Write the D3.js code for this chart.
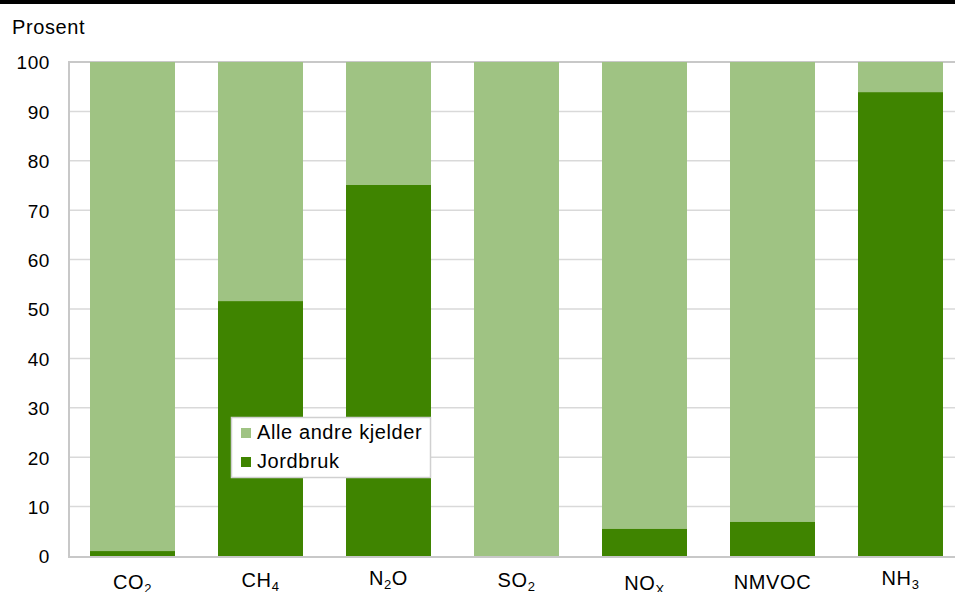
<!DOCTYPE html>
<html><head><meta charset="utf-8">
<script src="https://cdn.jsdelivr.net/npm/d3@7"></script>
<style>
html,body{margin:0;padding:0;background:#fff;}
svg{display:block;font-family:"Liberation Sans",Arial,sans-serif;}
svg text{letter-spacing:0.6px;}
</style></head>
<body>
<script>
const categories = [["CO","2"],["CH","4"],["N","2","O"],["SO","2"],["NO","X"],["NMVOC"],["NH","3"]];
const categoryKeys = ["CO2","CH4","N2O","SO2","NOx","NMVOC","NH3"];
const jordbruk = [1, 51.6, 75.1, 0, 5.5, 6.9, 93.9];
const andre = jordbruk.map(v => 100 - v);
const yTicks = [0,10,20,30,40,50,60,70,80,90,100];
const seriesNames = ["Alle andre kjelder","Jordbruk"];

const W = 955, H = 592;
const FS = 20;
const svg = d3.select("body").append("svg").attr("width", W).attr("height", H);

svg.append("rect").attr("x",0).attr("y",0).attr("width",W).attr("height",4).attr("fill","#000");

const x = d3.scaleBand().domain(categoryKeys).range([68.5, 964.5]).paddingInner(0.336).paddingOuter(0.168);
const y = d3.scaleLinear().domain([0,100]).range([556, 62]);

// gridlines
svg.append("g").selectAll("line").data(yTicks.filter(t => t>0 && t<100)).join("line")
  .attr("x1", 69).attr("x2", W).attr("y1", d=>y(d)).attr("y2", d=>y(d))
  .attr("stroke","#d9d9d9").attr("stroke-width",1.5);

// axes frame lines
svg.append("line").attr("x1",69).attr("x2",W).attr("y1",y(100)).attr("y2",y(100)).attr("stroke","#c8c8c8").attr("stroke-width",2);
svg.append("line").attr("x1",69).attr("x2",W).attr("y1",y(0)+1).attr("y2",y(0)+1).attr("stroke","#c8c8c8").attr("stroke-width",2);
svg.append("line").attr("x1",69).attr("x2",69).attr("y1",y(100)-1).attr("y2",y(0)+2).attr("stroke","#c8c8c8").attr("stroke-width",2);

const colors = {andre:"#9fc383", jord:"#3f8400"};

const bars = svg.append("g");
categoryKeys.forEach((k,i) => {
  bars.append("rect").attr("x", x(k)).attr("width", x.bandwidth())
    .attr("y", y(100)).attr("height", y(jordbruk[i]) - y(100)).attr("fill", colors.andre);
  bars.append("rect").attr("x", x(k)).attr("width", x.bandwidth())
    .attr("y", y(jordbruk[i])).attr("height", y(0) - y(jordbruk[i])).attr("fill", colors.jord);
});

// y axis labels
const yAxis = d3.axisLeft(y).tickValues(yTicks).tickSize(0).tickPadding(0);
const gy = svg.append("g").attr("transform","translate(50,0)").call(yAxis);
gy.select(".domain").remove();
gy.selectAll("text").attr("font-size",FS-1).attr("fill","#000").attr("font-family","Liberation Sans, Arial, sans-serif").attr("dy","0.36em");

svg.append("text").attr("x",12).attr("y",34).attr("font-size",FS).text("Prosent");

// x labels with subscripts
const baseLine = {CO2:589, CH4:587, N2O:585, SO2:587, NOx:590, NMVOC:589, NH3:585};
categories.forEach((parts,i) => {
  const k = categoryKeys[i];
  const t = svg.append("text").attr("x", x(k) + x.bandwidth()/2).attr("y", baseLine[k])
    .attr("text-anchor","middle").attr("font-size",FS);
  parts.forEach((p,j) => {
    const ts = t.append("tspan").text(p);
    if (j===1) ts.attr("font-size",13).attr("dy",4);
    else if (j===2) ts.attr("dy",-4);
  });
});

// legend
const lg = svg.append("g");
lg.append("rect").attr("x",231.5).attr("y",417.5).attr("width",199).attr("height",60)
  .attr("fill","#fff").attr("stroke","#d0d0d0").attr("stroke-width",1.5);
const legendColors = [colors.andre, colors.jord];
seriesNames.forEach((n,i) => {
  const cy = 433 + i*29;
  lg.append("rect").attr("x",241).attr("y",cy-5).attr("width",10).attr("height",10).attr("fill",legendColors[i]);
  lg.append("text").attr("x",257).attr("y",cy+6).attr("font-size",FS).text(n);
});
</script>
</body></html>
